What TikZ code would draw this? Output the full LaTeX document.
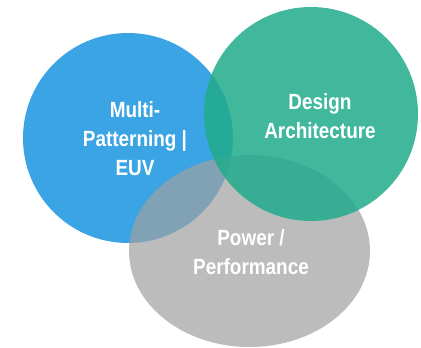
\documentclass[tikz,border=0pt]{standalone}
\usepackage{fontspec}
\setmainfont{Liberation Sans}
\newfontfamily\lblfont[FakeStretch=0.86]{Liberation Sans}
\begin{document}
\begin{tikzpicture}[x=1pt,y=-1pt,
  lbl/.style={text=white,align=center,font=\lblfont\bfseries\fontsize{22}{29}\selectfont,inner sep=0pt}]
\definecolor{vblue}{RGB}{58,164,228}
\definecolor{vgray}{RGB}{160,160,160}
\definecolor{vgreen}{RGB}{34,172,140}
\useasboundingbox (0,0) rectangle (421,348);
% three overlapping sets
\fill[vblue] (128,138) circle [radius=105];
\fill[vgray,opacity=0.7] (249.5,251) ellipse [x radius=120.5,y radius=96];
\fill[vgreen,opacity=0.86] (311,114) circle [radius=107];
% set labels
\node[lbl] (mp) at (135,139) {Multi-\\Patterning |\\EUV};
\node[lbl] (da) at (320,116) {Design\\Architecture};
\node[lbl] (pp) at (251,252) {Power /\\Performance};
\end{tikzpicture}
\end{document}
